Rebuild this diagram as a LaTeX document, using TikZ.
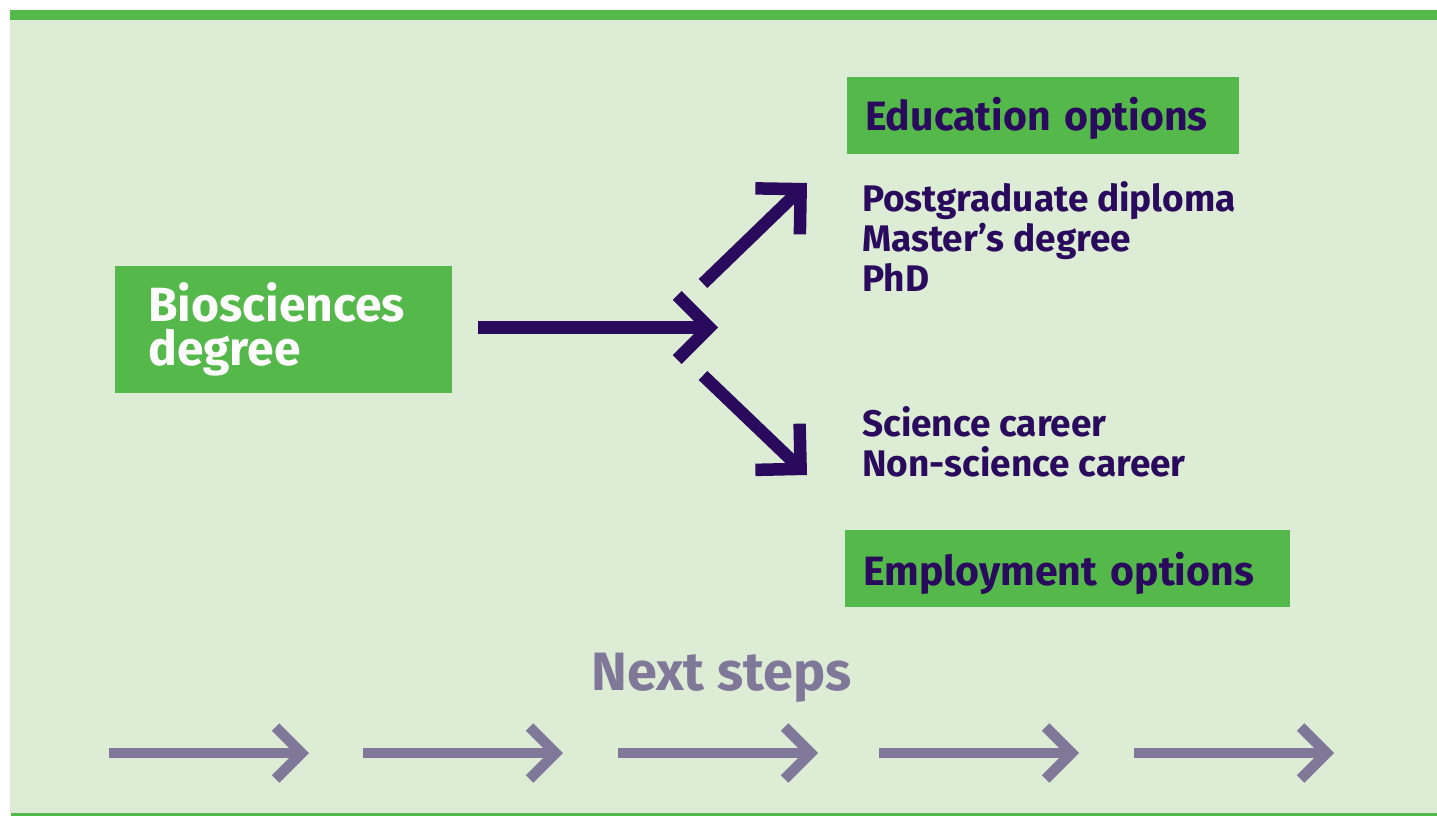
\documentclass[tikz,border=0pt]{standalone}
\usepackage{fontspec}
\setmainfont{Fira Sans}
\usetikzlibrary{arrows.meta,calc}
\definecolor{bargreen}{HTML}{55B84A}
\definecolor{bggreen}{HTML}{DDECD4}
\definecolor{darkpurple}{HTML}{2A0A5C}
\definecolor{greypurple}{HTML}{7F7898}
\tikzset{
	greenbox/.style={fill=bargreen,anchor=north west,inner ysep=0pt,align=left},
	headtext/.style={text=darkpurple,font=\bfseries\fontsize{41}{41}\selectfont,text height=29pt,text depth=0pt},
	listtext/.style={anchor=base west,inner sep=0pt,text=darkpurple,font=\bfseries\fontsize{37}{40}\selectfont},
	mainarrow/.style={draw=darkpurple,line width=12.5pt,-{Straight Barb[length=32pt,width=64pt,sharp]}},
	steparrow/.style={draw=greypurple,line width=10.5pt,-{Straight Barb[length=26pt,width=52pt,sharp]}}
}
\begin{document}
\begin{tikzpicture}[x=1pt,y=-1pt]
	\useasboundingbox (0,0) rectangle (1437,816);
	% panel
	\fill[bggreen] (10,20) rectangle (1437,813);
	\fill[bargreen] (10,10) rectangle (1437,20);
	\fill[bargreen] (11,813) rectangle (1437,816);
	% boxes
	\node[greenbox,minimum width=337pt,minimum height=127pt,inner xsep=33pt,text width=271pt,text=white,font=\bfseries\fontsize{48}{44}\selectfont] (bio) at (115,266) {Biosciences\\degree};
	\node[greenbox,headtext,minimum width=392pt,minimum height=77pt,inner xsep=18pt,text width=356pt] (eduhead) at (847,77) {\mbox{Education options}};
	\node[greenbox,headtext,minimum width=445pt,minimum height=77pt,inner xsep=18pt,text width=409pt,text height=33pt] (emphead) at (845,530) {\mbox{Employment options}};
	\foreach \txt [count=\i] in {Postgraduate diploma,Master’s degree,PhD}
		\node[listtext] (edu\i) at (862,171.7+40*\i) {\txt};
	\foreach \txt [count=\i] in {Science career,Non-science career}
		\node[listtext] (job\i) at (862,395.5+40.5*\i) {\txt};
	% arrows
	\coordinate (fork) at (718,327.5);
	\coordinate (edustart) at (703,283.5);
	\coordinate (eduend) at (807,183);
	\coordinate (empstart) at (703,375.5);
	\coordinate (empend) at (807,475);
	\draw[mainarrow] ($(bio.east |- fork)+(26,0)$) -- (fork);
	\draw[mainarrow] (edustart) -- (eduend);
	\draw[mainarrow] (empstart) -- (empend);
	% next steps
	\node[anchor=base west,inner sep=0pt,text=greypurple,font=\bfseries\fontsize{54}{54}\selectfont] (next) at (591,690) {Next steps};
	\foreach \x [count=\i] in {109,363,618,879,1134}{
		\coordinate (s\i) at (\x,753);
		\coordinate (t\i) at (\x+200,753);
		\draw[steparrow] (s\i) -- (t\i);
	}
\end{tikzpicture}
\end{document}
